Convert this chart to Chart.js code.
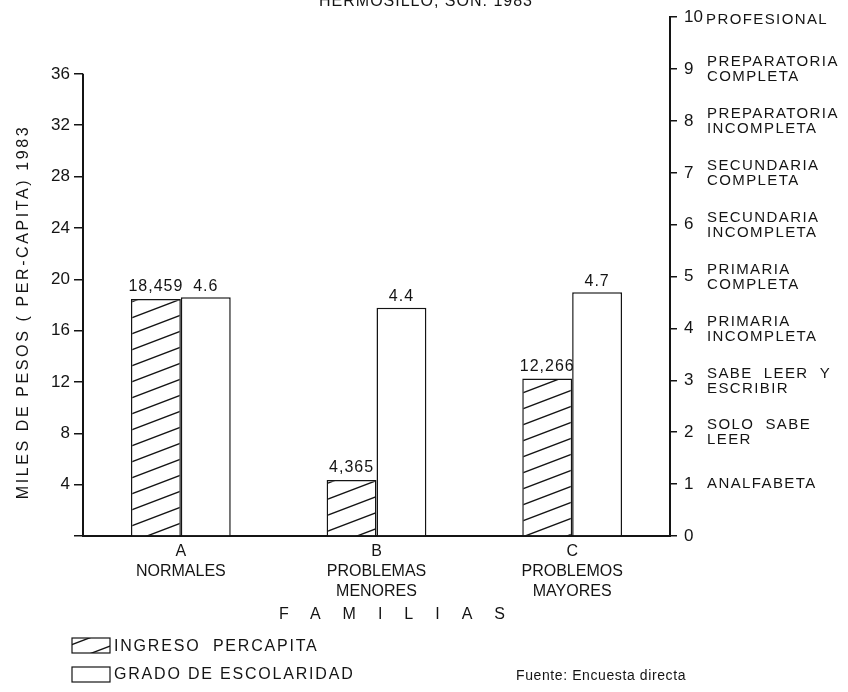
<!DOCTYPE html>
<html>
<head>
<meta charset="utf-8">
<script src="https://cdn.jsdelivr.net/npm/chart.js@4"></script>
<style>
  html, body { margin: 0; padding: 0; background: #fff; }
  #myChart { display: block; }
</style>
</head>
<body>
<canvas id="myChart" width="848" height="692"></canvas>
<script>
// datos de la grafica
var familias = ['A', 'B', 'C'];
var nombresFamilias = [['NORMALES'], ['PROBLEMAS', 'MENORES'], ['PROBLEMOS', 'MAYORES']];
var ingresoPercapita = [18.459, 4.365, 12.266];   // miles de pesos
var gradoEscolaridad = [4.6, 4.4, 4.7];
var maxIngresoTick = 36;
var nivelesEscolares = [
    [],
    ['ANALFABETA'],
    ['SOLO  SABE', 'LEER'],
    ['SABE  LEER  Y', 'ESCRIBIR'],
    ['PRIMARIA', 'INCOMPLETA'],
    ['PRIMARIA', 'COMPLETA'],
    ['SECUNDARIA', 'INCOMPLETA'],
    ['SECUNDARIA', 'COMPLETA'],
    ['PREPARATORIA', 'INCOMPLETA'],
    ['PREPARATORIA', 'COMPLETA'],
    ['PROFESIONAL']
];

var INK = '#141414';
var FONT = '"Liberation Sans", Arial, sans-serif';

function makeHatch() {
    var c = document.createElement('canvas');
    c.width = 42; c.height = 16;
    var g = c.getContext('2d');
    g.fillStyle = '#fff';
    g.fillRect(0, 0, 42, 16);
    g.strokeStyle = INK;
    g.lineWidth = 1.4;
    [-16, 0, 16].forEach(function (off) {
        g.beginPath();
        g.moveTo(-42, 32 + off);
        g.lineTo(84, -16 + off);
        g.stroke();
    });
    return g.createPattern(c, 'repeat');
}

var hatch = makeHatch();

var extras = {
    id: 'extras',
    afterDraw: function (chart) {
        var ctx = chart.ctx;
        var y = chart.scales.y, y1 = chart.scales.y1;
        ctx.save();
        ctx.fillStyle = INK;
        ctx.strokeStyle = INK;

        // eje izquierdo hasta 36
        ctx.lineWidth = 2;
        ctx.beginPath();
        ctx.moveTo(y.right, y.getPixelForValue(0));
        ctx.lineTo(y.right, y.getPixelForValue(maxIngresoTick));
        ctx.stroke();

        // descripciones del eje derecho
        ctx.font = '15px ' + FONT;
        ctx.letterSpacing = '1.4px';
        ctx.textAlign = 'left';
        ctx.textBaseline = 'middle';
        nivelesEscolares.forEach(function (lines, i) {
            var py = y1.getPixelForValue(i);
            if (lines.length === 1) {
                ctx.fillText(lines[0], i === 10 ? 706 : 707, py + (i === 10 ? 3 : 0));
            } else if (lines.length === 2) {
                ctx.fillText(lines[0], 707, py - 7);
                ctx.fillText(lines[1], 707, py + 8);
            }
        });

        // etiquetas de valores
        ctx.textAlign = 'center';
        ctx.textBaseline = 'bottom';
        ctx.letterSpacing = '1px';
        ctx.font = '16px ' + FONT;
        chart.getDatasetMeta(0).data.forEach(function (bar, i) {
            ctx.fillText(Math.round(ingresoPercapita[i] * 1000).toLocaleString('en-US'), bar.x, bar.y - 4);
        });
        chart.getDatasetMeta(1).data.forEach(function (bar, i) {
            ctx.fillText(gradoEscolaridad[i].toFixed(1), bar.x, bar.y - 3);
        });

        // titulo superior (cortado)
        ctx.font = '16px ' + FONT;
        ctx.letterSpacing = '1px';
        ctx.textBaseline = 'alphabetic';
        ctx.fillText('HERMOSILLO, SON. 1983', 426, 6);

        // titulo eje izquierdo
        ctx.save();
        ctx.translate(24, 312);
        ctx.rotate(-Math.PI / 2);
        ctx.textBaseline = 'middle';
        ctx.font = '16px ' + FONT;
        ctx.letterSpacing = '2.6px';
        ctx.fillText('MILES DE PESOS ( PER-CAPITA) 1983', 0, 0);
        ctx.restore();

        // titulo eje x
        ctx.textAlign = 'left';
        ctx.textBaseline = 'middle';
        ctx.font = '16px ' + FONT;
        ctx.letterSpacing = '22px';
        ctx.fillText('FAMILIAS', 279, 615);

        // leyenda
        ctx.lineWidth = 1.2;
        ctx.fillStyle = hatch;
        ctx.fillRect(72, 638, 38, 15);
        ctx.strokeRect(72, 638, 38, 15);
        ctx.fillStyle = '#fff';
        ctx.fillRect(72, 667, 38, 15);
        ctx.strokeRect(72, 667, 38, 15);
        ctx.fillStyle = INK;
        ctx.font = '16px ' + FONT;
        ctx.letterSpacing = '1.8px';
        ctx.fillText(chart.data.datasets[0].label, 114, 647);
        ctx.fillText(chart.data.datasets[1].label, 114, 675);
        ctx.font = '14px ' + FONT;
        ctx.letterSpacing = '0.6px';
        ctx.fillText('Fuente: Encuesta directa', 516, 676);
        ctx.restore();
    }
};

var ctx = document.getElementById('myChart').getContext('2d');

var config = {
    type: 'bar',
    data: {
        labels: familias.map(function (f, i) { return [f].concat(nombresFamilias[i]); }),
        datasets: [{
            label: 'INGRESO  PERCAPITA',
            data: ingresoPercapita,
            yAxisID: 'y',
            backgroundColor: hatch,
            borderColor: INK,
            borderWidth: 1.5
        }, {
            label: 'GRADO DE ESCOLARIDAD',
            data: gradoEscolaridad,
            yAxisID: 'y1',
            backgroundColor: '#fff',
            borderColor: INK,
            borderWidth: 1.5
        }]
    },
    options: {
        responsive: false,
        devicePixelRatio: 1,
        animation: false,
        barPercentage: 1,
        categoryPercentage: 0.51,
        layout: { padding: { top: 14 } },
        plugins: {
            legend: { display: false },
            title: { display: false },
            tooltip: { enabled: false }
        },
        scales: {
            x: {
                grid: { display: false, drawTicks: false },
                border: { display: true, color: INK, width: 2 },
                ticks: {
                    color: INK,
                    padding: 5,
                    maxRotation: 0,
                    font: { family: FONT, size: 16, lineHeight: 1.27 }
                },
                afterFit: function (s) { s.height = 156; }
            },
            y: {
                position: 'left',
                min: 0,
                max: maxIngresoTick * 522 / 465,
                afterBuildTicks: function (s) {
                    s.ticks = s.ticks.filter(function (t) { return t.value <= maxIngresoTick; });
                },
                grid: { drawOnChartArea: false, tickLength: 9, color: INK, lineWidth: 1.5 },
                border: { display: false },
                ticks: {
                    stepSize: 4,
                    color: INK,
                    padding: 4,
                    font: { family: FONT, size: 17 },
                    callback: function (v) { return v === 0 ? '' : v; }
                },
                afterFit: function (s) { s.width = 83; }
            },
            y1: {
                position: 'right',
                min: 0,
                max: 10,
                grid: { drawOnChartArea: false, tickLength: 7, color: INK, lineWidth: 1.5 },
                border: { display: true, color: INK, width: 2 },
                ticks: {
                    stepSize: 1,
                    color: INK,
                    padding: 7,
                    font: { family: FONT, size: 17 }
                },
                afterFit: function (s) { s.width = 178; }
            }
        }
    },
    plugins: [extras]
};

var myChart = new Chart(ctx, config);
</script>
</body>
</html>
